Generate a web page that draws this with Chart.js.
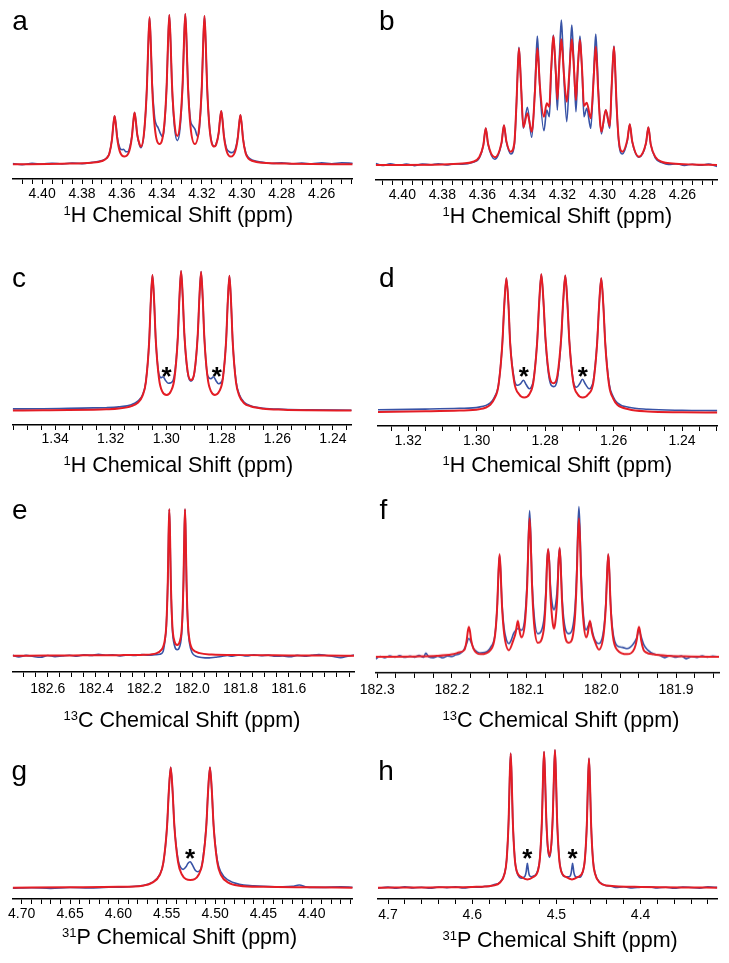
<!DOCTYPE html>
<html>
<head>
<meta charset="utf-8">
<script src="https://cdn.jsdelivr.net/npm/chart.js@4.4.1/dist/chart.umd.min.js"></script>
<style>
  body { margin: 0; background: #fff; }
  #fig { position: relative; width: 729px; height: 963px; overflow: hidden;
         font-family: "Liberation Sans", Arial, sans-serif; color: #000; }
  #fig canvas { position: absolute; }
  .lab { position: absolute; font-size: 28px; line-height: 1; }
  .ttl { position: absolute; font-size: 21.5px; line-height: 1; white-space: nowrap; }
  .ttl span { font-size: 13px; position: relative; top: -7px; }
</style>
</head>
<body>
<div id="fig"></div>
<script>
// ---- data: [ppm, intensity] (intensity in arbitrary units above baseline)

// a
const redA = [[4.4147,0],[4.39,0.6],[4.375,1.6],[4.370,3.3],[4.3676,6.1],[4.3663,10.9],[4.3650,24.9],[4.36435,38.9],[4.3637,48.3],[4.36305,39.4],[4.3624,26.2],[4.3611,12.9],[4.3587,7.7],[4.3563,13.5],[4.3550,27.9],[4.35435,42.2],[4.3537,51.7],[4.35305,43.2],[4.3524,30.4],[4.3511,19.5],[4.3505,17.7],[4.3488,34.7],[4.3475,78],[4.34685,119],[4.3462,147],[4.34555,119.6],[4.3449,78.5],[4.3436,37.4],[4.3412,20.3],[4.3389,37.9],[4.3376,79.7],[4.33695,121.4],[4.3363,149.3],[4.33565,122.2],[4.3350,81.7],[4.3337,41],[4.3323,28.3],[4.3309,41.3],[4.3296,82.2],[4.32895,123],[4.3283,150.3],[4.32765,122.2],[4.3270,80.2],[4.3257,38],[4.3235,20.3],[4.3213,37.7],[4.3200,79.2],[4.31935,120.6],[4.3187,148.3],[4.31805,120.5],[4.3174,78.7],[4.3161,35],[4.3138,17.7],[4.3129,19.5],[4.3116,31.2],[4.31095,44.4],[4.3103,53.3],[4.30965,43.4],[4.3090,28.7],[4.3077,13.9],[4.3055,7.7],[4.3033,13.1],[4.3020,26.7],[4.30135,40.2],[4.3007,49.3],[4.30005,39.7],[4.2994,25.4],[4.2981,11.1],[4.2968,6],[4.2945,3.3],[4.29,1.6],[4.275,0.6],[4.2445,0]];
const blueA = [[4.4147,0.8],[4.41,-0.3],[4.405,0.9],[4.40,0.2],[4.395,1.1],[4.39,0.4],[4.385,1.3],[4.38,0.7],[4.375,2],[4.370,3.8],[4.3676,6.5],[4.3663,11.2],[4.3650,25],[4.36435,39],[4.3637,48.3],[4.36305,40],[4.3624,28],[4.3611,16.5],[4.3600,14.5],[4.3592,15],[4.3582,12.7],[4.3570,12.5],[4.3563,15.5],[4.3550,28.5],[4.35435,42.2],[4.3537,51.7],[4.35305,43.2],[4.3524,30],[4.3511,18.5],[4.3505,16.5],[4.3488,34],[4.3475,78],[4.34685,119],[4.3462,147],[4.34555,120],[4.3449,82],[4.3436,46],[4.3428,39.5],[4.3420,37],[4.3408,31],[4.3397,27.7],[4.3389,35],[4.3376,80],[4.33695,121.4],[4.3363,149.3],[4.33565,122],[4.3350,80],[4.3337,37],[4.3323,23.7],[4.3309,36.5],[4.3296,81],[4.32895,123],[4.3283,150.3],[4.32765,122.5],[4.3270,82],[4.3257,44],[4.3246,38.5],[4.3234,35],[4.3222,28],[4.3213,35],[4.3200,79.5],[4.31935,120.6],[4.3187,148.3],[4.31805,120.5],[4.3174,78.7],[4.3161,36],[4.3138,18],[4.3129,20],[4.3116,31.5],[4.31095,44.4],[4.3103,53.3],[4.30965,44],[4.3090,30],[4.3077,16],[4.3065,13],[4.3052,11.7],[4.3042,12.5],[4.3033,15],[4.3020,27.5],[4.30135,40.2],[4.3007,49.3],[4.30005,40],[4.2994,26],[4.2981,12],[4.2968,7],[4.2945,4],[4.29,2.2],[4.285,0.8],[4.28,1.5],[4.275,0.5],[4.27,1.2],[4.265,0.4],[4.26,1.4],[4.255,0.6],[4.25,1.5],[4.2445,1]];
const ticksA = [4.40, 4.38, 4.36, 4.34, 4.32, 4.30, 4.28, 4.26];

// b
const redB = [[4.4133,0],[4.38,0.5],[4.37,1.5],[4.365,3],[4.3615,8],[4.3595,19.8],[4.3583,36.7],[4.3571,20.9],[4.3538,7.7],[4.3504,22.4],[4.3492,39.7],[4.3480,23.9],[4.3458,13.3],[4.3440,22],[4.3429,63.4],[4.3423,95.4],[4.3417,116.7],[4.3411,99.4],[4.3405,73.4],[4.3395,37.7],[4.3375,51.7],[4.3353,33.3],[4.3337,73.4],[4.3331,99.4],[4.3325,116.7],[4.3319,102.4],[4.3313,80.9],[4.3292,48.3],[4.3278,61.7],[4.3265,58.3],[4.3257,92],[4.3251,114.2],[4.3245,129],[4.3239,115.2],[4.3233,94.5],[4.3225,65.7],[4.3217,93.9],[4.3211,113],[4.3205,125.7],[4.3199,112.6],[4.3193,92.9],[4.3178,63.3],[4.3165,92.9],[4.3159,112.6],[4.3153,125.7],[4.3147,112.6],[4.3141,92.9],[4.3132,65],[4.3124,93.5],[4.3118,112.4],[4.3112,125],[4.3106,111],[4.3100,90],[4.3092,59],[4.3078,62.3],[4.3058,46.7],[4.3045,81.2],[4.3039,103.4],[4.3033,118.3],[4.3027,100.6],[4.3021,74.2],[4.3005,33.3],[4.2983,55],[4.2963,39],[4.2954,77],[4.2948,101.8],[4.2942,118.3],[4.2936,97],[4.2930,65],[4.2918,25],[4.29,13.3],[4.2875,25.4],[4.2863,40.7],[4.2851,23.9],[4.2817,8.3],[4.2782,21.9],[4.277,37.7],[4.2758,20.4],[4.2735,8],[4.27,3],[4.265,1.5],[4.255,0.5],[4.2427,0]];
const blueB = [[4.4133,1.5],[4.41,-0.5],[4.406,1.2],[4.402,-0.3],[4.398,0.9],[4.394,-0.6],[4.39,1.0],[4.386,0.2],[4.382,1.3],[4.378,0.1],[4.374,1.2],[4.37,0.8],[4.365,2.5],[4.3615,7],[4.3595,19.8],[4.3583,36.7],[4.3571,20.3],[4.3538,5.7],[4.3504,21.8],[4.3492,39.7],[4.3480,23.3],[4.3458,11],[4.3440,20],[4.3429,62.8],[4.3423,95.8],[4.3417,117.7],[4.3411,100],[4.3405,73.8],[4.3395,36.7],[4.3375,57.7],[4.3353,27.7],[4.3337,77],[4.3331,108.2],[4.3325,129],[4.3319,109.2],[4.3313,79.5],[4.3292,34.3],[4.3278,55],[4.3265,48.3],[4.3257,87.5],[4.3251,113],[4.3245,130],[4.3239,114.4],[4.3233,91],[4.3225,55],[4.3217,97.5],[4.3211,126],[4.3205,145],[4.3199,124],[4.3193,92.5],[4.3178,43.3],[4.3165,90],[4.3159,120],[4.3153,140],[4.3147,122],[4.3141,95],[4.3132,53.3],[4.3124,89.5],[4.3118,113.2],[4.3112,129],[4.3106,112.2],[4.3100,87],[4.3092,48.3],[4.3078,56.7],[4.3058,36.7],[4.3045,82.5],[4.3039,111.6],[4.3033,131],[4.3027,110.4],[4.3021,79.5],[4.3005,31],[4.2983,55],[4.2963,36.7],[4.2954,76.5],[4.2948,102],[4.2942,119],[4.2936,97],[4.2930,64.5],[4.2918,23],[4.29,11],[4.2875,24.4],[4.2863,40.7],[4.2851,23.3],[4.2817,7.7],[4.2782,21.4],[4.277,37.7],[4.2758,20.4],[4.2735,7],[4.27,2.2],[4.267,0.5],[4.263,1.3],[4.259,-0.4],[4.255,0.8],[4.251,-0.3],[4.247,0.9],[4.2427,-1.5]];
const ticksB = [4.40, 4.38, 4.36, 4.34, 4.32, 4.30, 4.28, 4.26];

// c
const redC = [[1.35526,0.2],[1.34442,0.4],[1.33531,0.6],[1.32620,1],[1.32164,1.4],[1.31708,2.2],[1.31253,4.6],[1.31025,8],[1.30852,15],[1.30734,28.6],[1.30615,69.3],[1.30556,110],[1.30497,135.7],[1.30437,109.8],[1.30378,70.8],[1.30260,31.9],[1.30141,19],[1.29986,15.7],[1.29832,19.5],[1.29704,32.7],[1.29585,72.8],[1.29526,112.9],[1.29467,139.7],[1.29408,114.6],[1.29349,76.8],[1.29230,39.1],[1.29112,30.7],[1.28984,39],[1.28866,76.5],[1.28806,114],[1.28747,139],[1.28688,112.4],[1.28629,72.5],[1.28510,32.6],[1.28383,19],[1.28246,15.7],[1.28091,19.5],[1.27964,31.8],[1.27845,70.5],[1.27786,109.2],[1.27727,135],[1.27668,108.3],[1.27608,68.3],[1.27490,28.2],[1.27371,14.9],[1.27198,7.5],[1.26970,4.4],[1.26515,2],[1.25786,1],[1.24875,0.5],[1.23327,0.2]];
const blueC = [[1.35526,1.8],[1.34442,2],[1.33531,2.4],[1.32620,2.8],[1.32164,3],[1.31708,3.8],[1.31253,6],[1.31025,9.5],[1.30852,16],[1.30734,29],[1.30615,69.5],[1.30556,110],[1.30497,135.7],[1.30437,110],[1.30378,71.5],[1.30260,36],[1.30178,33],[1.30114,34],[1.30032,30.5],[1.29932,27.5],[1.29832,28],[1.29704,36],[1.29585,73.5],[1.29526,113],[1.29467,139.7],[1.29408,114],[1.29349,76],[1.29230,38],[1.29112,29.5],[1.28984,38.5],[1.28866,76.5],[1.28806,114],[1.28747,139],[1.28688,112.5],[1.28629,73],[1.28510,35],[1.28392,32],[1.28301,34],[1.28210,30],[1.28119,27],[1.28027,28.5],[1.27964,33],[1.27845,71],[1.27786,109.5],[1.27727,135],[1.27668,108.5],[1.27608,69],[1.27490,29.5],[1.27371,16.2],[1.27198,8.5],[1.26970,5],[1.26515,2.5],[1.25786,1.4],[1.24875,0.8],[1.23327,0.5]];
const ticksC = [1.34, 1.32, 1.30, 1.28, 1.26, 1.24];
const starsC = [[1.29986, 40.7], [1.28182, 40.7]];

// d
const redD = [[1.3288,1.2],[1.315,2],[1.305,2.8],[1.2993,4],[1.296,8.6],[1.2948,14.6],[1.2936,28.2],[1.2925,68.8],[1.2919,109.3],[1.2913,135],[1.2907,109],[1.2902,70],[1.2890,31],[1.2876,19],[1.2861,15.7],[1.2846,19],[1.2834,31.8],[1.2823,72],[1.2817,112.2],[1.2811,139],[1.2805,113.8],[1.2799,76],[1.2788,38.2],[1.2775,30],[1.2764,37.9],[1.2753,75.4],[1.2747,112.8],[1.2741,137.7],[1.2735,111.2],[1.2729,71.4],[1.2718,31.5],[1.2705,19],[1.2690,15.7],[1.2674,19],[1.2659,31],[1.2648,70],[1.2642,109],[1.2636,135],[1.2630,109],[1.2624,68.2],[1.2613,28],[1.2601,14.7],[1.2589,8.6],[1.2556,4],[1.25,1.8],[1.24,1],[1.2297,0.7]];
const blueD = [[1.3288,3.5],[1.315,4.2],[1.305,5],[1.2993,6.2],[1.296,10.5],[1.2948,16],[1.2936,29],[1.2925,69],[1.2919,109.3],[1.2913,135],[1.2907,109.5],[1.2902,71],[1.2890,34],[1.2881,28],[1.2872,29.5],[1.2863,33],[1.2855,28.5],[1.2846,24.5],[1.2840,26.5],[1.2834,33],[1.2823,72.5],[1.2817,112.2],[1.2811,139],[1.2805,113],[1.2799,74],[1.2788,35],[1.2775,26.7],[1.2764,34.5],[1.2753,74],[1.2747,112],[1.2741,137.7],[1.2735,111.5],[1.2729,72],[1.2718,33],[1.2708,26],[1.2699,29.5],[1.2691,34],[1.2682,29],[1.2671,24.5],[1.2664,27],[1.2659,32.5],[1.2648,71],[1.2642,109.5],[1.2636,135],[1.2630,109.5],[1.2624,69.5],[1.2613,30],[1.2601,16.5],[1.2589,10.5],[1.2556,6],[1.25,4],[1.24,3],[1.2297,2.7]];
const ticksD = [1.32, 1.30, 1.28, 1.26, 1.24];
const starsD = [[1.2862, 43.3], [1.2690, 43.3]];

// e
const redE = [[182.7456,0],[182.6,0.2],[182.45,0.4],[182.3,0.6],[182.2,1],[182.15,2.4],[182.1268,6.4],[182.1206,9.4],[182.1144,15.7],[182.1082,30.5],[182.102,74.9],[182.0989,119],[182.0958,146.7],[182.0927,120],[182.0896,76.4],[182.0834,31.3],[182.075,15],[182.0632,10.8],[182.0514,15],[182.043,31.3],[182.0368,76.4],[182.0337,120],[182.0306,146.7],[182.0275,119],[182.0244,74.9],[182.0182,30.5],[182.012,15.7],[182.0058,9.4],[181.9996,6.4],[181.97,2.6],[181.92,1.2],[181.8,0.6],[181.6,0.3],[181.45,0.1],[181.3294,0]];
const blueE = [[182.7456,0.5],[182.72,-1.2],[182.69,0.3],[182.66,-0.8],[182.63,-1.5],[182.60,0.2],[182.57,-0.9],[182.54,-0.2],[182.51,0.4],[182.48,-0.6],[182.45,0.9],[182.42,0.3],[182.39,1.4],[182.36,0.5],[182.33,1.0],[182.30,-0.2],[182.27,0.7],[182.24,0.2],[182.21,1.3],[182.18,0.4],[182.155,0.9],[182.135,1.5],[182.122,4],[182.1144,14],[182.1082,29.5],[182.102,74],[182.0989,118.5],[182.0958,146.7],[182.0927,119],[182.0896,75],[182.0834,28],[182.074,10],[182.0632,6],[182.053,9],[182.043,27.5],[182.0368,75],[182.0337,119],[182.0306,146.7],[182.0275,118.5],[182.0244,74],[182.0182,28.5],[182.012,12.5],[182.001,3],[181.985,-0.5],[181.93,-2.2],[181.905,-1.5],[181.88,-0.8],[181.855,0.2],[181.835,-0.5],[181.805,0.8],[181.775,-0.3],[181.745,1.0],[181.715,0.1],[181.685,0.6],[181.655,-0.6],[181.625,-0.2],[181.595,-1.1],[181.565,0.3],[181.535,-0.5],[181.505,0.4],[181.475,1.2],[181.445,0.3],[181.415,-0.7],[181.385,-1.9],[181.355,-0.5],[181.3294,0.6]];
const ticksE = [182.6, 182.4, 182.2, 182.0, 181.8, 181.6];

// f
const redF = [[182.302,0],[182.25,0.4],[182.22,1],[182.2,2.5],[182.19,4.5],[182.183,7.3],[182.1803,16.2],[182.1788,25],[182.1773,30],[182.1758,25.5],[182.1743,17],[182.1713,8.5],[182.1616,2.7],[182.1482,7],[182.1422,22],[182.1392,53.4],[182.1377,84],[182.1362,102.7],[182.1347,84.5],[182.1332,54.5],[182.1302,24],[182.1237,6.7],[182.1177,16.8],[182.1147,24],[182.1132,31],[182.1117,36],[182.1102,30],[182.1087,23],[182.1068,19.5],[182.102,36],[182.099,76],[182.0975,116],[182.096,138.3],[182.0945,116],[182.093,76],[182.09,33],[182.0849,14],[182.0771,27],[182.0741,62],[182.0726,95],[182.0711,107.7],[182.0696,92.8],[182.0681,61.8],[182.0651,33.8],[182.0634,28.3],[182.0617,33.8],[182.0588,61.8],[182.0573,93],[182.0558,109],[182.0543,90],[182.0528,58.5],[182.0498,26.8],[182.0434,14],[182.036,33],[182.033,76],[182.0315,116],[182.030,138.3],[182.0285,116],[182.027,76],[182.024,36],[182.0202,19.5],[182.0183,23],[182.0168,30],[182.0153,36],[182.0138,31],[182.0123,24],[182.0093,16.8],[182.0032,7.3],[181.9967,24],[181.9937,54.5],[181.9922,84.5],[181.9907,102.7],[181.9892,84],[181.9877,53.4],[181.9847,22],[181.9787,7],[181.9653,2.7],[181.9556,8.5],[181.9526,17],[181.9511,25.5],[181.9496,30],[181.9481,25],[181.9466,16.2],[181.9436,7.3],[181.94,4.5],[181.93,2.5],[181.91,1],[181.88,0.4],[181.8425,0]];
const blueF = [[182.302,-2],[182.296,0.5],[182.29,-1],[182.283,1],[182.276,-0.3],[182.27,1.2],[182.263,-0.5],[182.256,0.8],[182.25,-0.4],[182.244,1.5],[182.238,-0.5],[182.235,3.8],[182.231,0],[182.225,-0.8],[182.219,0.6],[182.212,-1],[182.206,0.8],[182.2,0.3],[182.195,2],[182.19,3],[182.1845,6.5],[182.181,12],[182.1773,18.3],[182.174,14],[182.171,8.5],[182.166,5],[182.1616,4],[182.156,4.5],[182.152,6],[182.1482,9.5],[182.1422,23],[182.1392,53],[182.1377,83.5],[182.1362,101.7],[182.1347,84.5],[182.1332,57],[182.1302,29],[182.127,17],[182.1237,13.3],[182.1205,17],[182.1177,23],[182.1147,26.5],[182.1117,28.3],[182.1087,27.5],[182.1068,26.7],[182.102,42],[182.099,82],[182.0975,121],[182.096,146],[182.0945,122],[182.093,82],[182.09,42],[182.0849,23.3],[182.0771,36],[182.0741,68],[182.0726,97],[182.0711,107.7],[182.0696,96],[182.0681,71],[182.0651,50],[182.0634,47.3],[182.0617,50],[182.0588,71],[182.0573,97],[182.0558,109],[182.0543,93],[182.0528,64],[182.0498,35],[182.0434,23.3],[182.036,42],[182.033,84],[182.0315,126],[182.030,150],[182.0285,126],[182.027,84],[182.024,42],[182.0202,27],[182.0175,31],[182.0153,35],[182.0125,27],[182.0093,18],[182.0032,13.3],[181.9967,28],[181.9937,57],[181.9922,85],[181.9907,102.7],[181.9892,85],[181.9877,55],[181.9847,26],[181.9787,11],[181.9715,9.5],[181.9653,8.3],[181.958,12],[181.9526,19],[181.9496,26.7],[181.9466,20],[181.943,12],[181.938,7],[181.93,3],[181.922,1.5],[181.915,-0.8],[181.908,1.2],[181.90,-0.5],[181.893,0.9],[181.886,-1.8],[181.879,0.3],[181.872,-0.6],[181.865,1.1],[181.858,-0.4],[181.851,0.8],[181.8425,0]];
const ticksF = [182.3, 182.2, 182.1, 182.0, 181.9];

// g
const redG = [[4.7093,0],[4.65,0.4],[4.6,0.9],[4.575,2],[4.565,5],[4.5573,12.7],[4.5535,25],[4.5497,61.2],[4.5478,97.3],[4.5459,120.3],[4.5440,97.5],[4.5421,61.5],[4.5383,25.5],[4.5345,13.5],[4.5256,7.7],[4.5167,13.5],[4.5129,25.5],[4.5091,61.5],[4.5072,97.5],[4.5053,120.3],[4.5034,97.3],[4.5015,61.2],[4.4977,25],[4.4939,12.7],[4.4863,5],[4.475,2],[4.45,0.9],[4.40,0.4],[4.3577,0]];
const blueG = [[4.7093,-0.5],[4.69,0],[4.67,-0.7],[4.65,0.2],[4.63,-0.3],[4.61,0.5],[4.6,0.4],[4.59,1],[4.575,2.2],[4.565,5.3],[4.5573,13],[4.5535,25],[4.5497,61],[4.5478,97],[4.5459,120.3],[4.5440,97.5],[4.5421,62],[4.5383,28],[4.5355,20],[4.5330,18.3],[4.5300,21],[4.5280,24.5],[4.5258,26],[4.5236,23],[4.5205,17.5],[4.5180,16],[4.5150,18],[4.5129,27],[4.5091,62],[4.5072,97.5],[4.5053,120.3],[4.5034,97.5],[4.5015,62],[4.4977,27.5],[4.4939,15.5],[4.4863,7.5],[4.475,3.5],[4.46,2],[4.45,1.4],[4.43,0.8],[4.42,1.3],[4.413,2.7],[4.405,0.6],[4.39,0.3],[4.37,0.9],[4.3577,0.4]];
const ticksG = [4.70, 4.65, 4.60, 4.55, 4.50, 4.45, 4.40];
const starsG = [[4.5258, 36]];

// h
const redH = [[4.7119,0],[4.65,0.3],[4.60,0.8],[4.575,2.3],[4.567,5.2],[4.5615,14.2],[4.5591,27.9],[4.5567,68.4],[4.5555,108.7],[4.5543,134.3],[4.5531,109],[4.5519,69.5],[4.5495,29.5],[4.5471,16.5],[4.541,10.5],[4.5345,8.3],[4.528,10.5],[4.5219,17],[4.5195,30.5],[4.5171,70],[4.5159,110],[4.5147,136],[4.5135,112],[4.5123,76],[4.5105,44],[4.5082,31.7],[4.5059,45],[4.5041,77],[4.5029,113],[4.5017,137.7],[4.5005,111],[4.4993,71],[4.4969,31],[4.4945,17],[4.488,10.5],[4.4815,8.3],[4.475,10.5],[4.4685,16.5],[4.4661,29],[4.4637,67],[4.4625,106],[4.4613,129.3],[4.4601,105],[4.4589,66],[4.4565,26.8],[4.4541,14],[4.4485,5],[4.44,2.2],[4.40,0.8],[4.35,0.3],[4.3089,0]];
const blueH = [[4.7119,-0.5],[4.70,0.6],[4.69,-0.4],[4.68,0.8],[4.67,-0.2],[4.66,0.5],[4.65,-0.6],[4.64,0.7],[4.63,0.1],[4.62,0.9],[4.61,-0.2],[4.60,0.8],[4.59,0.4],[4.585,1.5],[4.58,1.2],[4.575,2.8],[4.567,5.5],[4.5615,14.5],[4.5591,28],[4.5567,68.4],[4.5555,108.7],[4.5543,134.3],[4.5531,109],[4.5519,70],[4.5495,30],[4.5471,16],[4.544,10.5],[4.541,9.5],[4.5385,10.5],[4.5371,12],[4.5361,15],[4.5353,20],[4.5345,24.3],[4.5337,20],[4.5329,15],[4.5319,12],[4.5300,11],[4.5260,12],[4.5219,18],[4.5195,31],[4.5171,70],[4.5159,110],[4.5147,136],[4.5135,112],[4.5123,75],[4.5105,42],[4.5082,30.3],[4.5059,43.5],[4.5041,76],[4.5029,113],[4.5017,137.7],[4.5005,111],[4.4993,71],[4.4969,31.5],[4.4945,17.5],[4.489,11],[4.4848,11],[4.4834,12],[4.4824,15],[4.4816,20],[4.4808,24.3],[4.4800,20],[4.4792,15],[4.4782,12],[4.476,10.5],[4.472,10.5],[4.4685,16.5],[4.4661,29],[4.4637,67],[4.4625,106],[4.4613,129.3],[4.4601,105],[4.4589,66.5],[4.4565,27.5],[4.4541,14.5],[4.4485,5.5],[4.44,2],[4.435,1.6],[4.43,0.3],[4.42,0.9],[4.41,-0.3],[4.40,0.6],[4.39,0.9],[4.38,-0.2],[4.37,0.5],[4.36,-0.5],[4.35,0.7],[4.34,0.2],[4.33,-0.4],[4.32,0.8],[4.3089,0.3]];
const ticksH = [4.7, 4.6, 4.5, 4.4];
const starsH = [[4.5345, 36], [4.4808, 36]];

// ---- layout of the eight panels (page pixels)
const FONT = '"Liberation Sans", Arial, sans-serif';
const RED = "#e41d25";
const BLUE = "#3853a6";

const panels = [
  { id: "a", red: redA, blue: blueA, ticks: ticksA, dec: 2, step: 0.005, xr: [4.2445, 4.4147],
    cx: 0, cy: 0, cw: 364, axisY: 179, baseY: 164.3, axisL: 12.7, axisR: 352.7, pad: 2,
    lab: [12.2, 7], ttl: [63.6, 205], sup: "1", nuc: "H" },
  { id: "b", red: redB, blue: blueB, ticks: ticksB, dec: 2, step: 0.005, xr: [4.2427, 4.4133],
    cx: 355, cy: 0, cw: 374, axisY: 180, baseY: 165, axisL: 375.7, axisR: 717, pad: 2,
    lab: [378.9, 7], ttl: [442.6, 206.2], sup: "1", nuc: "H" },
  { id: "c", red: redC, blue: blueC, ticks: ticksC, dec: 2, step: 0.005, xr: [1.23327, 1.35526], stars: starsC,
    cx: 0, cy: 235, cw: 364, axisY: 425, baseY: 410.7, axisL: 12.7, axisR: 351.7, pad: 1,
    lab: [12, 263.6], ttl: [63.6, 455.3], sup: "1", nuc: "H" },
  { id: "d", red: redD, blue: blueD, ticks: ticksD, dec: 2, step: 0.005, xr: [1.2297, 1.3288], stars: starsD,
    cx: 355, cy: 235, cw: 374, axisY: 426, baseY: 413.3, axisL: 378, axisR: 717.3, pad: 2,
    lab: [379, 263.6], ttl: [442.6, 454.5], sup: "1", nuc: "H" },
  { id: "e", red: redE, blue: blueE, ticks: ticksE, dec: 1, step: 0.05, xr: [181.3294, 182.7456],
    cx: 0, cy: 470, cw: 364, axisY: 672.3, baseY: 656, axisL: 12.7, axisR: 354, pad: 4,
    lab: [12, 496.3], ttl: [63.6, 709.5], sup: "13", nuc: "C" },
  { id: "f", red: redF, blue: blueF, ticks: ticksF, dec: 1, step: 0.025, xr: [181.8425, 182.302],
    cx: 355, cy: 470, cw: 374, axisY: 672.7, baseY: 656.7, axisL: 375.7, axisR: 719, pad: 4,
    lab: [379.5, 496.3], ttl: [442.6, 709.5], sup: "13", nuc: "C" },
  { id: "g", red: redG, blue: blueG, ticks: ticksG, dec: 2, step: 0.01, xr: [4.3577, 4.7093], stars: starsG,
    cx: 0, cy: 710, cw: 364, axisY: 899, baseY: 887.7, axisL: 12.7, axisR: 352.7, pad: 2,
    lab: [11.6, 757], ttl: [62, 927], sup: "31", nuc: "P" },
  { id: "h", red: redH, blue: blueH, ticks: ticksH, dec: 1, step: 0.02, xr: [4.3089, 4.7119], stars: starsH,
    cx: 355, cy: 710, cw: 374, axisY: 899, baseY: 887.7, axisL: 378, axisR: 717.3, pad: 3,
    lab: [378.2, 757], ttl: [442.6, 929.5], sup: "31", nuc: "P" }
];

const AXIS_H = 34;
const fig = document.getElementById("fig");

function starMarks(stars) {
  return {
    id: "starMarks",
    afterDatasetsDraw(chart) {
      if (!stars) return;
      const { ctx, scales } = chart;
      ctx.save();
      ctx.font = "bold 26px " + FONT;
      ctx.fillStyle = "#000";
      ctx.textAlign = "center";
      ctx.textBaseline = "alphabetic";
      stars.forEach(([ppm, h]) => {
        ctx.fillText("*", scales.x.getPixelForValue(ppm), scales.y.getPixelForValue(h) + 15);
      });
      ctx.restore();
    }
  };
}

panels.forEach(p => {
  const ch = p.axisY - p.cy + AXIS_H;
  const canvas = document.createElement("canvas");
  canvas.width = p.cw;
  canvas.height = ch;
  canvas.style.left = p.cx + "px";
  canvas.style.top = p.cy + "px";
  canvas.style.width = p.cw + "px";
  canvas.style.height = ch + "px";
  fig.appendChild(canvas);

  const toXY = arr => arr.map(([x, y]) => ({ x, y }));

  new Chart(canvas.getContext("2d"), {
    type: "line",
    data: {
      datasets: [
        { label: "Simulated", data: toXY(p.red), borderColor: RED, borderWidth: 2,
          pointRadius: 0, cubicInterpolationMode: "monotone", fill: false },
        { label: "Experimental", data: toXY(p.blue), borderColor: BLUE, borderWidth: 1.6,
          pointRadius: 0, cubicInterpolationMode: "monotone", fill: false }
      ]
    },
    options: {
      responsive: false,
      devicePixelRatio: 1,
      animation: false,
      events: [],
      layout: {
        autoPadding: false,
        padding: { left: p.axisL - p.cx, right: p.cx + p.cw - p.axisR, top: 0, bottom: 0 }
      },
      plugins: { legend: { display: false }, tooltip: { enabled: false } },
      scales: {
        x: {
          type: "linear",
          reverse: true,
          min: p.xr[0],
          max: p.xr[1],
          afterFit: s => { s.height = AXIS_H; },
          border: { display: true, color: "#000", width: 1.5 },
          grid: { display: true, drawOnChartArea: false, drawTicks: true, tickLength: 5,
                  color: "#000", lineWidth: 1 },
          ticks: {
            stepSize: p.step,
            includeBounds: false,
            autoSkip: false,
            maxRotation: 0,
            minRotation: 0,
            padding: p.pad,
            color: "#000",
            font: { family: FONT, size: 14 },
            callback: v => {
              const hit = p.ticks.find(t => Math.abs(t - v) < 1e-6);
              return hit === undefined ? "" : hit.toFixed(p.dec);
            }
          }
        },
        y: {
          display: false,
          min: -(p.axisY - p.baseY),
          max: p.baseY - p.cy
        }
      }
    },
    plugins: [starMarks(p.stars)]
  });

  const lab = document.createElement("div");
  lab.className = "lab";
  lab.style.left = p.lab[0] + "px";
  lab.style.top = p.lab[1] + "px";
  lab.textContent = p.id;
  fig.appendChild(lab);

  const ttl = document.createElement("div");
  ttl.className = "ttl";
  ttl.style.left = p.ttl[0] + "px";
  ttl.style.top = p.ttl[1] + "px";
  ttl.innerHTML = "<span>" + p.sup + "</span>" + p.nuc + " Chemical Shift (ppm)";
  fig.appendChild(ttl);
});
</script>
</body>
</html>
